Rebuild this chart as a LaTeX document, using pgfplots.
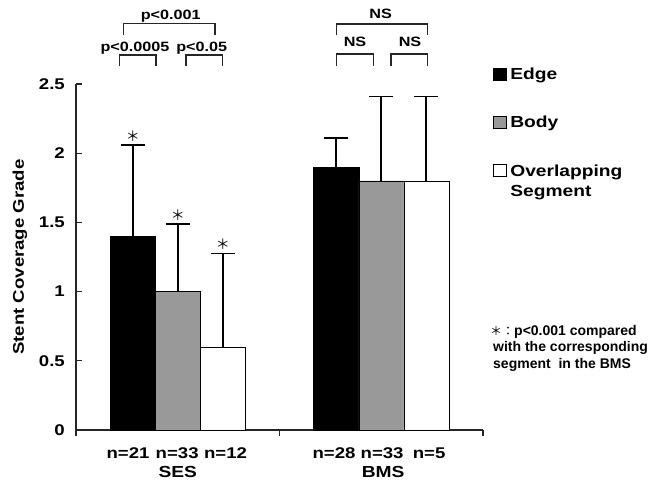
\documentclass[border=0pt]{standalone}
\usepackage{pgfplots}
\pgfplotsset{compat=1.18}
\usepackage{pgfplotstable}
\usepackage{fontspec}
\setmainfont{Liberation Sans}
\newfontfamily\wide{Liberation Sans}[FakeStretch=1.2]
\newfontfamily\cjk{Noto Sans CJK JP}

\pgfplotstableread{
x y err
0.5 1.4 0.66
1.5 1.9 0.21
}\edgetab
\pgfplotstableread{
x y err
0.5 1.0 0.49
1.5 1.8 0.61
}\bodytab
\pgfplotstableread{
x y err
0.5 0.6 0.675
1.5 1.8 0.61
}\ovltab

\begin{document}
\begin{tikzpicture}
\begin{axis}[
  scale only axis, width=407bp, height=346bp,
  xmin=0, xmax=2, ymin=0, ymax=2.5,
  axis x line=bottom, axis y line=left,
  axis line style={-, black!85, line width=1.2bp},
  xtick={0,1,2}, xticklabels={},
  ytick={0,0.5,1,1.5,2,2.5},
  tick align=inside, major tick length=5.5bp,
  tick style={black!85, line width=1.2bp},
  /pgf/number format/assume math mode=true,
  yticklabel style={font=\wide\bfseries\fontsize{15.5bp}{18bp}\selectfont, inner sep=0pt, xshift=-11bp},
  ylabel={Stent Coverage Grade},
  ylabel style={font=\wide\bfseries\fontsize{15.5bp}{18bp}\selectfont, at={(axis description cs:0,0.5)}, anchor=south, inner sep=0pt, yshift=48.7bp},
  ybar=0pt, bar width=45bp,
  clip=false,
  every axis plot post/.append style={legend image code/.code={\draw[#1, draw=black, line width=0.6bp] (0bp,-0.5bp) rectangle (13bp,11.5bp);}},
  legend style={at={(axis cs:2.0467,2.6185)}, anchor=north west, draw=none, fill=none, inner sep=0pt,
    font=\wide\bfseries\fontsize{16bp}{20bp}\selectfont, row sep=33bp, column sep=4bp,
    cells={anchor=base west}, nodes={inner sep=0pt, text depth=3.4bp}},
  error bars/error bar style={line width=1.8bp, black},
  error bars/error mark options={rotate=90, mark size=12bp, line width=1.8bp, black},
]
\addplot[fill=black, draw=black, line width=0.6bp,
  error bars/.cd, y dir=plus, y explicit] table[x=x, y=y, y error=err]{\edgetab};
\addplot[fill=black!40, draw=black, line width=0.6bp,
  error bars/.cd, y dir=plus, y explicit] table[x=x, y=y, y error=err]{\bodytab};
\addplot[fill=white, draw=black, line width=0.6bp,
  error bars/.cd, y dir=plus, y explicit] table[x=x, y=y, y error=err]{\ovltab};
\legend{Edge, Body, {\vtop{\hbox{Overlapping}\hbox{Segment}}}}

% bounding box matching the reference canvas
\path (axis cs:-0.3735,-0.3757) rectangle (axis cs:2.889,3.107);

% asterisks
\node[font=\cjk\fontsize{14bp}{14bp}\selectfont, inner sep=0pt, yshift=9bp] at (axis cs:0.2789,2.06) {＊};
\node[font=\cjk\fontsize{14bp}{14bp}\selectfont, inner sep=0pt, yshift=9bp] at (axis cs:0.5,1.49) {＊};
\node[font=\cjk\fontsize{14bp}{14bp}\selectfont, inner sep=0pt, yshift=9bp] at (axis cs:0.7211,1.275) {＊};

% brackets
\begin{scope}[line width=1.2bp, black!85]
\draw (axis cs:0.2128,2.630) -- (axis cs:0.2128,2.7095) -- (axis cs:0.3931,2.7095) -- (axis cs:0.3931,2.630);
\draw (axis cs:0.5405,2.630) -- (axis cs:0.5405,2.7095) -- (axis cs:0.7189,2.7095) -- (axis cs:0.7189,2.630);
\draw (axis cs:0.2324,2.854) -- (axis cs:0.2324,2.9386) -- (axis cs:0.6830,2.9386) -- (axis cs:0.6830,2.854);
\draw (axis cs:1.281,2.630) -- (axis cs:1.281,2.717) -- (axis cs:1.461,2.717) -- (axis cs:1.461,2.630);
\draw (axis cs:1.548,2.630) -- (axis cs:1.548,2.717) -- (axis cs:1.728,2.717) -- (axis cs:1.728,2.630);
\draw (axis cs:1.281,2.854) -- (axis cs:1.281,2.933) -- (axis cs:1.728,2.933) -- (axis cs:1.728,2.854);
\end{scope}
\begin{scope}[every node/.style={anchor=base, inner sep=0pt, font=\wide\bfseries\fontsize{13.5bp}{16bp}\selectfont}]
\node at (axis cs:0.4654,2.968) {p<0.001};
\node at (axis cs:0.290,2.733) {p<0.0005};
\node at (axis cs:0.6177,2.733) {p<0.05};
\node at (axis cs:1.497,2.97) {NS};
\node at (axis cs:1.371,2.77) {NS};
\node at (axis cs:1.641,2.77) {NS};
\end{scope}

% sample sizes and group names
\begin{scope}[every node/.style={anchor=base, inner sep=0pt, font=\wide\bfseries\fontsize{15.5bp}{18bp}\selectfont}]
\node at (axis cs:0.2555,-0.202) {n=21};
\node at (axis cs:0.497,-0.202) {n=33};
\node at (axis cs:0.7346,-0.202) {n=12};
\node at (axis cs:1.268,-0.202) {n=28};
\node at (axis cs:1.504,-0.202) {n=33};
\node at (axis cs:1.735,-0.202) {n=5};
\node[font=\wide\bfseries\fontsize{16bp}{18bp}\selectfont] at (axis cs:0.5,-0.34) {SES};
\node[font=\wide\bfseries\fontsize{16bp}{18bp}\selectfont] at (axis cs:1.509,-0.34) {BMS};
\end{scope}

% footnote
\node[anchor=base west, inner sep=0pt, font=\bfseries\fontsize{14bp}{16.5bp}\selectfont] at (axis cs:2.034,0.686)
  {\vtop{\hbox{{\cjk\mdseries\fontsize{12bp}{14bp}\selectfont ＊：}p<0.001 compared}\hbox{\hspace{3bp}with the corresponding}\hbox{\hspace{3bp}segment\ \ in the BMS}}};
\end{axis}
\end{tikzpicture}
\end{document}
